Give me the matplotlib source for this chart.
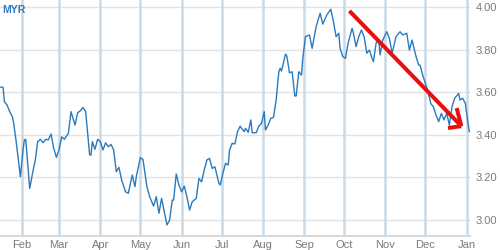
import matplotlib
matplotlib.use("Agg")
import matplotlib.pyplot as plt
import matplotlib.dates as mdates
import numpy as np
import datetime as dt

plt.rcParams['font.family'] = ['Liberation Sans', 'DejaVu Sans']

# days since 2015-01-01
days = [15, 17, 18, 20, 22, 24, 25, 27, 30, 32, 33, 34, 37, 40, 41, 43, 45, 47, 49, 51,
        53, 55, 57, 59, 61, 63, 66, 68, 71, 73, 75, 77, 79, 82, 83, 84, 86, 88, 90, 92,
        94, 96, 98, 100, 102, 104, 106, 109, 111, 114, 116, 117, 120, 122, 125, 127, 130, 132, 134, 136,
        138, 140, 142, 144, 145, 147, 149, 151, 153, 155, 157, 159, 162, 164, 166, 168, 170, 172, 174, 176,
        179, 180, 182, 184, 186, 187, 189, 191, 193, 195, 196, 198, 199, 201, 203, 204, 207, 209, 211, 213,
        214, 216, 218, 220, 222, 224, 225, 226, 229, 230, 232, 234, 236, 237, 239, 241, 242, 244, 247, 249,
        252, 255, 257, 260, 263, 265, 267, 269, 270, 272, 274, 276, 279, 280, 282, 284, 286, 288, 290, 292,
        294, 295, 297, 299, 300, 302, 305, 307, 309, 312, 315, 317, 320, 322, 324, 327, 329, 330, 332, 334,
        336, 338, 340, 342, 344, 346, 348, 350, 352, 354, 356, 359, 360, 362, 364, 366, 367]
rate = [3.625, 3.623, 3.556, 3.540, 3.509, 3.485, 3.454, 3.360, 3.203, 3.329, 3.376, 3.379, 3.148, 3.247, 3.273, 3.368, 3.379, 3.363, 3.379, 3.376,
        3.404, 3.337, 3.294, 3.329, 3.391, 3.379, 3.407, 3.509, 3.446, 3.504, 3.513, 3.529, 3.509, 3.305, 3.305, 3.368, 3.332, 3.379, 3.368, 3.329,
        3.363, 3.344, 3.355, 3.329, 3.226, 3.247, 3.187, 3.132, 3.125, 3.211, 3.156, 3.203, 3.292, 3.285, 3.156, 3.109, 3.065, 3.109, 3.031, 3.101,
        3.038, 2.976, 2.999, 3.093, 3.093, 3.216, 3.164, 3.132, 3.159, 3.109, 3.046, 3.085, 3.101, 3.195, 3.179, 3.234, 3.282, 3.289, 3.242, 3.250,
        3.172, 3.164, 3.219, 3.266, 3.258, 3.328, 3.360, 3.357, 3.415, 3.441, 3.431, 3.415, 3.431, 3.412, 3.470, 3.410, 3.410, 3.441, 3.454, 3.509,
        3.423, 3.446, 3.478, 3.482, 3.564, 3.697, 3.713, 3.700, 3.780, 3.771, 3.692, 3.697, 3.583, 3.583, 3.697, 3.681, 3.760, 3.862, 3.870, 3.807,
        3.909, 3.972, 3.921, 3.964, 3.991, 3.932, 3.862, 3.878, 3.807, 3.768, 3.760, 3.831, 3.901, 3.878, 3.815, 3.862, 3.893, 3.862, 3.784, 3.799,
        3.760, 3.744, 3.831, 3.846, 3.776, 3.846, 3.885, 3.854, 3.784, 3.862, 3.885, 3.870, 3.878, 3.799, 3.846, 3.768, 3.728, 3.728, 3.681, 3.642,
        3.603, 3.548, 3.532, 3.493, 3.462, 3.501, 3.470, 3.501, 3.446, 3.532, 3.572, 3.595, 3.564, 3.572, 3.548, 3.454, 3.415]

# red trend arrow (annotation)
arrow_days = [277, 361]
arrow_vals = [3.983, 3.441]
head_a_days = [357.5, 361]
head_a_vals = [3.526, 3.441]
head_b_days = [351, 361]
head_b_vals = [3.432, 3.441]

month_labels = ['Feb', 'Mar', 'Apr', 'May', 'Jun', 'Jul', 'Aug', 'Sep', 'Oct', 'Nov', 'Dec', 'Jan']
y_ticks = [3.00, 3.20, 3.40, 3.60, 3.80, 4.00]
currency = 'MYR'

base = dt.datetime(2015, 1, 1)
def to_dates(ds):
    return [base + dt.timedelta(days=float(d)) for d in ds]

fig = plt.figure(figsize=(5, 2.5), dpi=100)
ax = fig.add_axes([0, 0.056, 0.94, 0.944])

line_color = '#2a7bbd'
ax.plot(to_dates(days), rate, color=line_color, lw=1.0, zorder=3)

red = '#e8100f'
ax.plot(to_dates(arrow_days), arrow_vals, color=red, lw=2.9, solid_capstyle='butt', zorder=4)
ax.plot(to_dates(head_a_days), head_a_vals, color=red, lw=2.9, solid_capstyle='butt', zorder=4)
ax.plot(to_dates(head_b_days), head_b_vals, color=red, lw=2.9, solid_capstyle='butt', zorder=4)

ax.set_xlim(base + dt.timedelta(days=14.7), base + dt.timedelta(days=367.5))
ax.set_ylim(2.924, 4.0344)

month_ticks = [dt.datetime(2015, m, 1) for m in range(2, 13)] + [dt.datetime(2016, 1, 1)]
ax.set_xticks(month_ticks)
ax.set_xticklabels(month_labels)
ax.set_yticks(y_ticks)
ax.set_yticklabels([f'{v:.2f}' for v in y_ticks])
ax.yaxis.tick_right()

for t in month_ticks:
    ax.axvline(t, color='#c9d9e6', lw=1.8, zorder=1)
for v in y_ticks:
    ax.axhline(v, color='#e2e2e2', lw=1.0, zorder=0)

for s in ['top', 'left', 'right']:
    ax.spines[s].set_visible(False)
ax.spines['bottom'].set_color('#d8d8d8')
ax.spines['bottom'].set_linewidth(1.5)

ax.tick_params(axis='both', length=0, labelsize=8, colors='#7a7a7a')
ax.tick_params(axis='x', pad=3)
ax.tick_params(axis='y', pad=4)
for lbl in ax.get_yticklabels():
    lbl.set_horizontalalignment('left')

ax.text(0.004, 0.98, currency, transform=ax.transAxes, color='#2a7bbd', fontsize=7.5,
        fontweight='bold', va='top', ha='left')

ax.set_facecolor('white')
fig.savefig('out.png', dpi=100)
